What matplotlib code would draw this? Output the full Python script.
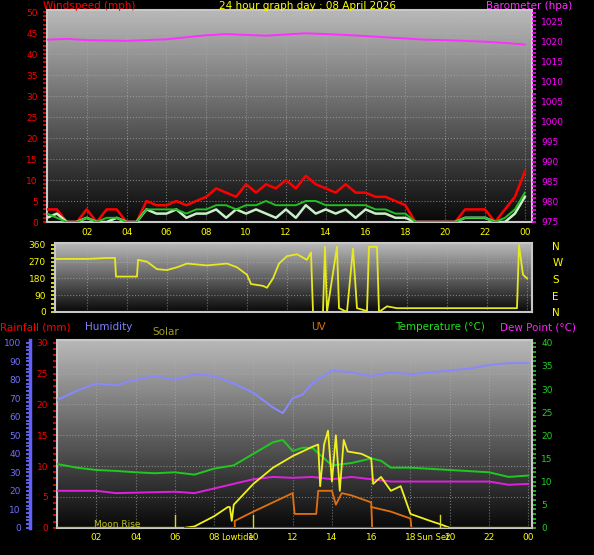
import matplotlib
matplotlib.use("Agg")
import matplotlib.pyplot as plt
import numpy as np
from matplotlib.ticker import MultipleLocator

# ---- data ----
hh = np.arange(0, 24.01, 0.5)
gust = [3,3,0,0,3,0,3,3,0,0,5,4,4,5,4,5,6,8,7,6,9,7,9,8,10,8,11,9,8,7,9,7,7,6,6,5,4,0,0,0,0,0,3,3,3,0,3,6,12]
avg_wind = [2,1,0,0,1,0,1,1,0,0,3,3,3,3,2,3,3,4,4,3,4,4,5,4,4,4,5,5,4,4,4,4,4,3,3,2,2,0,0,0,0,0,1,1,1,0,1,3,7]
wind = [1,2,0,0,1,0,0,1,0,0,3,2,2,3,1,2,2,3,1,3,2,3,2,1,3,1,4,2,3,2,3,1,3,2,2,1,1,0,0,0,0,0,1,1,1,0,0,2,6]

hours = np.arange(0, 25)
baro = [1020.4,1020.6,1020.3,1020.2,1020.1,1020.3,1020.5,1021.0,1021.5,1021.8,1021.6,1021.4,1021.7,1022.0,1021.8,1021.6,1021.3,1021.0,1020.7,1020.4,1020.3,1020.1,1019.9,1019.6,1019.2]

dir_t = [0,1,2,3,3.4,3.45,4.5,4.55,5,5.5,6,6.5,7,7.5,8,8.5,9,9.5,10,10.2,10.8,11,11.3,11.6,12,12.5,13,13.2,13.3,13.8,13.9,14,14.5,14.6,15,15.3,15.5,16,16.1,16.5,16.6,17,17.5,18,19,20,22,23.5,23.6,23.8,24]
dir_v = [285,285,285,290,290,190,190,280,270,230,225,240,260,255,250,255,260,240,200,150,140,130,180,260,300,310,280,320,0,0,350,0,350,20,0,340,20,5,350,350,0,30,20,20,20,20,20,20,360,200,180]

hum_t = [0,1,2,3,4,5,6,7,8,9,10,11,11.5,12,12.5,13,14,15,16,17,18,19,20,21,22,23,24]
hum = [69,74,78,77,80,82,80,83,82,78,73,65,62,70,72,78,85,84,82,84,83,84,85,86,88,89,89]

temp_t = [0,1,2,3,4,5,6,7,8,9,10,11,11.5,12,12.5,13,14,15,16,16.5,17,18,20,22,23,24]
temp = [13.8,13,12.5,12.3,12,11.8,12,11.5,12.8,13.5,16,18.5,19,16.6,17.3,17.3,13.5,14,15,14.5,13,13,12.5,12,11,11.3]

dew_t = [0,1,2,3,4,5,6,7,8,9,10,11,12,13,14,15,16,17,18,20,22,23,24]
dew = [8,8,8,7.5,7.6,7.7,7.8,7.5,8.5,9.5,10.5,11,10.8,11,10.5,11,10.5,10,10,10,10,9.3,9.5]

solar_t = [0,6.5,7,8,8.7,8.8,8.9,9,10,11,12,13,13.3,13.4,13.6,13.8,14,14.2,14.4,14.6,14.8,15.5,16,16.1,16.5,17,17.5,18,19,19.5,20,24]
solar = [0,0,0.3,2.5,4.5,4.5,1.5,5,9.5,13,15.5,17.5,18,9,18,21,10,20,8,19,16.5,16,15,9.5,11,8,9,3,1.5,0.8,0,0]

uv_t = [9.05,9.05,10,11,12,12.1,12.5,13.2,13.3,14,14.2,14.5,15,16,16.05]
uv = [0,1.5,3.5,5.5,7.5,3,3,3,8,8,5,7.5,7,5.5,0]
uv2_t = [16,17,18,18.05]
uv2 = [4.5,3.5,2,0]

events = {"Moon Rise": 6.0, "Lowtide": 10.0, "Sun Set": 19.5}
xlabels = ["02","04","06","08","10","12","14","16","18","20","22","00"]

fig = plt.figure(figsize=(5.94, 5.55), dpi=100, facecolor="black")
grad = np.linspace(0, 1, 256).reshape(-1, 1)


def panel(rect, xlim, ylim, top=0.72):
    ax = fig.add_axes(rect)
    ax.set_facecolor("black")
    ax.imshow(grad, extent=[0, 1, 0, 1], transform=ax.transAxes, cmap="gray",
              vmin=-0.05, vmax=1 / top, aspect="auto", zorder=0, origin="lower")
    ax.set_xlim(*xlim)
    ax.set_ylim(*ylim)
    ax.set_xticks(np.arange(2, 25, 2))
    ax.set_xticklabels(xlabels)
    ax.grid(True, color="#b0b0b0", linestyle=":", linewidth=0.8, alpha=0.6)
    for s in ax.spines.values():
        s.set_color("#c8c8c8")
        s.set_linewidth(1.5)
    ax.tick_params(axis="x", colors="yellow", labelsize=6.5, length=0, pad=4)
    return ax


# ---- top: wind + barometer ----
ax1 = panel([0.079, 0.6, 0.817, 0.382], (0, 24.37), (0, 50.5))
ax1.plot(hh, gust, color="red", lw=1.8, zorder=3)
ax1.plot(hh, wind, color="#c8f0c8", lw=1.8, zorder=4)
ax1.plot(hh, avg_wind, color="#20c020", lw=1.4, zorder=5)
ax1.set_yticks(np.arange(0, 51, 5))
ax1.yaxis.set_minor_locator(MultipleLocator(1))
ax1.tick_params(axis="y", which="both", colors="red", labelsize=6.5, length=3, width=1.2)
axb = ax1.twinx()
axb.set_ylim(975, 1027.8)
axb.plot(hours, baro, color="#ff30ff", lw=1.4, zorder=5)
axb.set_yticks(np.arange(975, 1026, 5))
axb.yaxis.set_minor_locator(MultipleLocator(1))
axb.tick_params(axis="y", which="both", colors="#ff00ff", labelsize=6.5, length=3, width=1.2)
for s in axb.spines.values():
    s.set_visible(False)

# ---- middle: wind direction ----
ax2 = panel([0.0926, 0.438, 0.803, 0.124], (0.4, 24.25), (0, 370))
ax2.plot(dir_t, dir_v, color="#e8e820", lw=1.3, zorder=3)
ax2.set_yticks([0, 90, 180, 270, 360])
ax2.yaxis.set_minor_locator(MultipleLocator(22.5))
ax2.tick_params(axis="y", which="both", colors="yellow", labelsize=6.5, length=3, width=1.2)
ax2.tick_params(axis="x", labelbottom=False, labeltop=False)
for i, c in enumerate(["N", "W", "S", "E", "N"]):
    fig.text(0.93, 1 - (247 + i * 16.5) / 555, c, color="yellow", fontsize=7.5, va="center")

# ---- bottom: rain / humidity / temp / solar / uv ----
ax3 = panel([0.096, 0.049, 0.8, 0.339], (0, 24.2), (0, 30.5))
ax3.set_yticks(np.arange(0, 31, 5))
ax3.yaxis.set_minor_locator(MultipleLocator(1))
ax3.tick_params(axis="y", which="both", colors="red", labelsize=6.5, length=3, width=1.2)
ax3.set_xticklabels(xlabels)

axt = ax3.twinx()
axt.set_ylim(0, 40.67)
axt.set_yticks(np.arange(0, 41, 5))
axt.yaxis.set_minor_locator(MultipleLocator(1))
axt.tick_params(axis="y", which="both", colors="#20d020", labelsize=6.5, length=3, width=1.2)
axt.spines["right"].set_color("#c8c8c8")
for k in ["top", "left", "bottom"]:
    axt.spines[k].set_visible(False)

axh = ax3.twinx()
axh.set_ylim(0, 101.7)
axh.spines["right"].set_visible(False)
axh.spines["top"].set_visible(False)
axh.spines["bottom"].set_visible(False)
axh.spines["left"].set_visible(True)
axh.spines["left"].set_position(("axes", -0.057))
axh.spines["left"].set_color("#6060ff")
axh.spines["left"].set_linewidth(2.5)
axh.yaxis.set_ticks_position("left")
axh.yaxis.set_label_position("left")
axh.set_yticks(np.arange(0, 101, 10))
axh.yaxis.set_minor_locator(MultipleLocator(2))
axh.tick_params(axis="y", which="both", colors="#7070ff", labelsize=6.5, length=3, width=1.2)

axt.plot(hum_t, np.array(hum) * 0.4, color="#8888ff", lw=1.4, zorder=3)
axt.plot(temp_t, temp, color="#20c820", lw=1.4, zorder=4)
axt.plot(dew_t, dew, color="#e020e0", lw=1.4, zorder=4)
axt.plot(solar_t, solar, color="#f0f020", lw=1.3, zorder=5)
axt.plot(uv_t, uv, color="#e07010", lw=1.3, zorder=5)
axt.plot(uv2_t, uv2, color="#e07010", lw=1.3, zorder=5)
axt.plot([0, 6.5], [0, 0], color="orange", lw=2, zorder=6)
axt.plot([19.8, 24.2], [0, 0], color="orange", lw=2, zorder=6)
axt.plot([6.5, 19.8], [0, 0], color="red", lw=2, zorder=6)
for name, t in events.items():
    axt.plot([t, t], [0, 2.7], color="#d8d820", lw=1, zorder=6)
ax3.text(events["Moon Rise"] - 4.1, 0.2, "Moon Rise", color="#c0c020", fontsize=6.5, zorder=7)
ax3.text(events["Lowtide"], -1.5, "Lowtide", color="yellow", fontsize=6, ha="right", va="center")
ax3.text(events["Sun Set"] + 0.5, -1.5, "Sun Set", color="yellow", fontsize=6, ha="right", va="center")

# ---- titles ----
fig.text(0.072, 0.998, "Windspeed (mph)", color="red", fontsize=7.5, va="top")
fig.text(0.517, 0.998, "24 hour graph day : 08 April 2026", color="yellow", fontsize=7.5, va="top", ha="center")
fig.text(0.818, 0.998, "Barometer (hpa)", color="#ff30ff", fontsize=7.5, va="top")
ty = 1 - 327 / 555
fig.text(0.0, ty, "Rainfall (mm)", color="red", fontsize=7.5, va="center")
fig.text(0.143, ty, "Humidity", color="#8080ff", fontsize=7.5, va="center")
fig.text(0.256, 1 - 332 / 555, "Solar", color="#a0a020", fontsize=7.5, va="center")
fig.text(0.523, ty, "UV", color="#e07010", fontsize=7.5, va="center")
fig.text(0.665, ty, "Temperature (°C)", color="#20e020", fontsize=7.5, va="center")
fig.text(0.842, ty, "Dew Point (°C)", color="#ff20ff", fontsize=7.5, va="center")

fig.savefig("out.png", dpi=100, facecolor="black")
